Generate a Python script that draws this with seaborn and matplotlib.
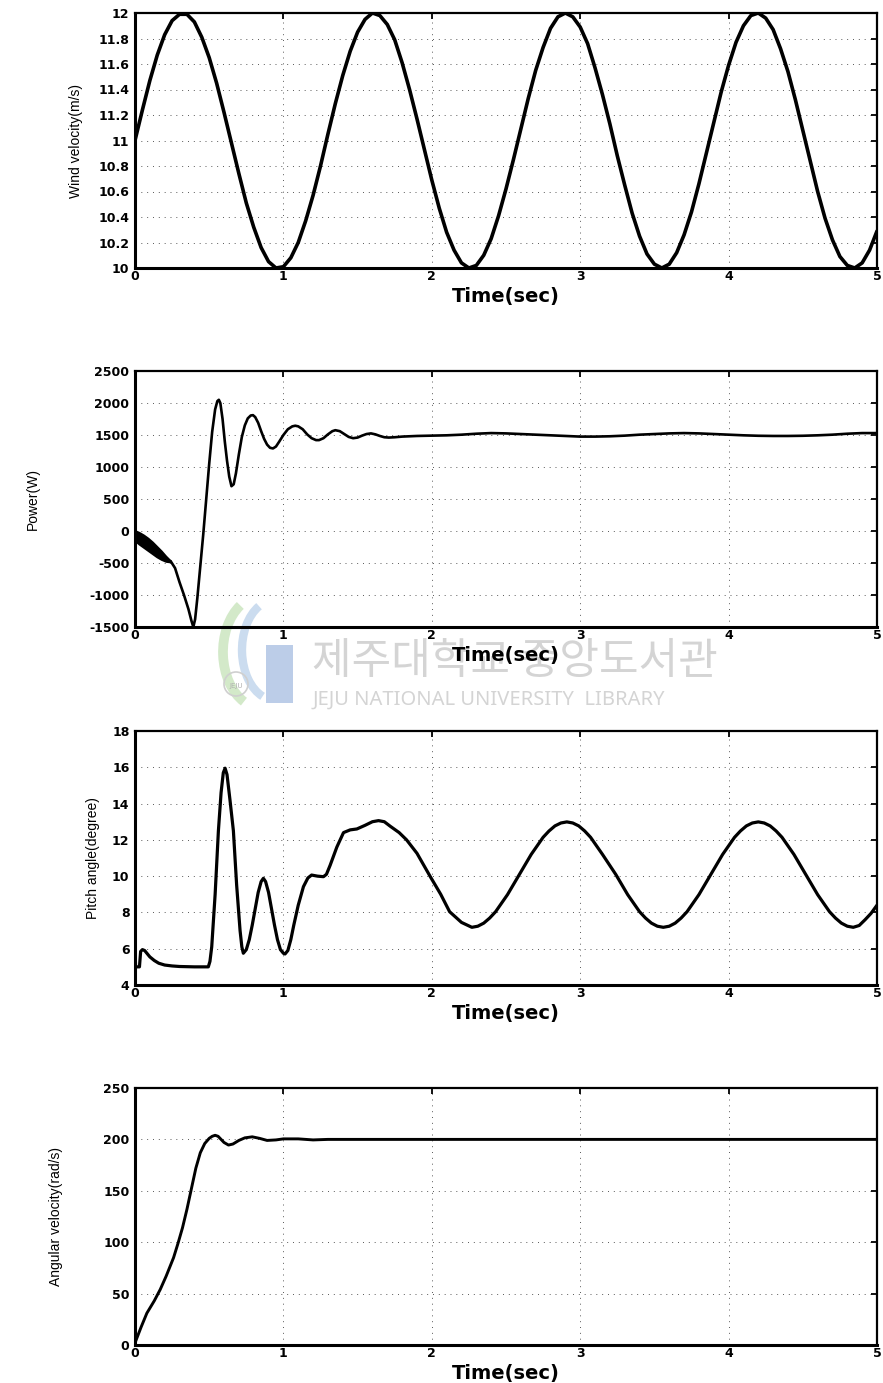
import numpy as np
import pandas as pd
import matplotlib
matplotlib.use("Agg")
import matplotlib.pyplot as plt
import seaborn as sns
from matplotlib import font_manager
from matplotlib.patches import Arc, Rectangle, Circle

# ---------------- data ----------------
wind_t = [round(0.05 * k, 2) for k in range(101)]
wind_v = [11.00, 11.24, 11.47, 11.67, 11.83, 11.94, 11.99, 11.99, 11.93, 11.81,
          11.65, 11.45, 11.22, 10.98, 10.74, 10.51, 10.32, 10.16, 10.05, 10.00,
          10.01, 10.08, 10.20, 10.37, 10.57, 10.80, 11.05, 11.29, 11.51, 11.70,
          11.85, 11.95, 12.00, 11.98, 11.91, 11.79, 11.61, 11.40, 11.17, 10.93,
          10.69, 10.47, 10.28, 10.14, 10.04, 10.00, 10.02, 10.10, 10.23, 10.41,
          10.62, 10.85, 11.09, 11.33, 11.55, 11.73, 11.88, 11.97, 12.00, 11.97,
          11.89, 11.76, 11.57, 11.36, 11.13, 10.88, 10.65, 10.43, 10.25, 10.11,
          10.03, 10.00, 10.03, 10.12, 10.26, 10.44, 10.66, 10.90, 11.14, 11.38,
          11.59, 11.77, 11.90, 11.98, 12.00, 11.96, 11.87, 11.72, 11.54, 11.32,
          11.08, 10.84, 10.60, 10.39, 10.22, 10.09, 10.02, 10.00, 10.04, 10.14,
          10.29]

power_band_t = [0.0, 0.03, 0.06, 0.09, 0.12, 0.15, 0.18, 0.21, 0.24]
power_band_hi = [0, -30, -70, -120, -180, -250, -320, -400, -470]
power_band_lo = [-150, -210, -260, -310, -360, -410, -450, -480, -490]

power_t = [0.24, 0.27, 0.30, 0.33, 0.36, 0.38, 0.393, 0.405, 0.42, 0.44, 0.46,
           0.48, 0.50, 0.52, 0.54, 0.555, 0.565, 0.575, 0.59, 0.605, 0.62, 0.635,
           0.65, 0.665, 0.68, 0.70, 0.72, 0.74, 0.76, 0.78, 0.795, 0.81, 0.83,
           0.85, 0.87, 0.89, 0.91, 0.93, 0.95, 0.97, 1.0, 1.03, 1.06, 1.08, 1.10,
           1.13, 1.16, 1.19, 1.22, 1.24, 1.27, 1.30, 1.33, 1.35, 1.38, 1.41,
           1.44, 1.47, 1.50, 1.53, 1.56, 1.59, 1.62, 1.65, 1.68, 1.71, 1.75,
           1.8, 1.9, 2.0, 2.1, 2.2, 2.3, 2.4, 2.5, 2.6, 2.7, 2.8, 2.9, 3.0,
           3.1, 3.2, 3.3, 3.4, 3.5, 3.6, 3.7, 3.8, 3.9, 4.0, 4.1, 4.2, 4.3,
           4.4, 4.5, 4.6, 4.7, 4.8, 4.9, 5.0]
power_w = [-470, -580, -800, -1000, -1220, -1400, -1500, -1380, -1050, -550, -50,
           500, 1050, 1550, 1900, 2030, 2050, 2000, 1750, 1400, 1100, 850,
           700, 730, 900, 1200, 1470, 1650, 1760, 1805, 1810, 1780, 1690,
           1560, 1440, 1350, 1300, 1290, 1320, 1390, 1500, 1590, 1635, 1645, 1635,
           1590, 1510, 1450, 1420, 1420, 1450, 1510, 1560, 1575, 1560, 1515,
           1470, 1450, 1460, 1490, 1515, 1525, 1510, 1485, 1465, 1460, 1465,
           1475, 1485, 1490, 1495, 1505, 1520, 1530, 1525, 1515, 1505, 1495, 1485, 1475,
           1475, 1480, 1490, 1505, 1515, 1525, 1530, 1525, 1515, 1505, 1495, 1488, 1485,
           1485, 1488, 1495, 1505, 1520, 1530, 1530]

pitch_t = [0.0, 0.004, 0.03, 0.038, 0.05, 0.065, 0.08, 0.10, 0.13, 0.16, 0.20,
           0.25, 0.30, 0.40, 0.494, 0.505, 0.517, 0.54, 0.562, 0.58, 0.595,
           0.607, 0.62, 0.64, 0.663, 0.685, 0.708, 0.72, 0.73, 0.75, 0.77,
           0.79, 0.81, 0.83, 0.85, 0.865, 0.88, 0.90, 0.92, 0.94, 0.96,
           0.98, 1.0, 1.011, 1.03, 1.05, 1.07, 1.10, 1.135, 1.165, 1.19, 1.23,
           1.27, 1.29, 1.315, 1.36, 1.405, 1.45, 1.495, 1.55, 1.60, 1.641, 1.68,
           1.72, 1.78, 1.83, 1.90, 1.99, 2.06, 2.12, 2.2, 2.27,
           2.31, 2.35, 2.39, 2.43, 2.51, 2.59, 2.67, 2.75, 2.79, 2.83, 2.87,
           2.91, 2.95, 2.99, 3.03, 3.07, 3.15,
           3.24, 3.32, 3.40, 3.44, 3.48, 3.52, 3.56, 3.60, 3.64, 3.68, 3.72,
           3.80, 3.88, 3.96, 4.04, 4.08, 4.12, 4.16, 4.20, 4.24, 4.28, 4.32,
           4.36, 4.44, 4.52, 4.60, 4.68, 4.72, 4.76, 4.80, 4.84, 4.88, 4.92,
           4.96, 5.0]
pitch_deg = [6.0, 5.0, 5.0, 5.85, 5.95, 5.9, 5.75, 5.55, 5.35, 5.2, 5.1,
             5.05, 5.02, 5.0, 5.0, 5.3, 6.1, 9.0, 12.5, 14.6, 15.7,
             15.95, 15.6, 14.2, 12.5, 9.5, 7.0, 6.1, 5.75, 5.95, 6.5,
             7.3, 8.2, 9.1, 9.7, 9.88, 9.7, 9.1, 8.2, 7.3, 6.5,
             5.95, 5.75, 5.71, 5.9, 6.5, 7.3, 8.4, 9.42, 9.9, 10.06, 10.0,
             9.97, 10.1, 10.6, 11.6, 12.4, 12.55, 12.6, 12.8, 13.0, 13.06, 13.0,
             12.75, 12.4, 12.0, 11.26, 9.97, 9.0, 8.04, 7.45, 7.18,
             7.24, 7.41, 7.69, 8.04, 8.98, 10.09, 11.2, 12.14, 12.49, 12.77, 12.93,
             12.99, 12.93, 12.77, 12.49, 12.14, 11.2,
             10.09, 8.98, 8.04, 7.69, 7.41, 7.24, 7.18, 7.24, 7.41, 7.69, 8.04,
             8.98, 10.09, 11.2, 12.14, 12.49, 12.77, 12.93, 12.99, 12.93, 12.77, 12.49,
             12.14, 11.2, 10.09, 8.98, 8.04, 7.69, 7.41, 7.24, 7.18, 7.28, 7.6,
             7.95, 8.4]

omega_t = [0.0, 0.04, 0.08, 0.13, 0.17, 0.21, 0.26, 0.29, 0.32, 0.35, 0.38,
           0.41, 0.44, 0.47, 0.50, 0.52, 0.54, 0.56, 0.58, 0.60, 0.63, 0.66,
           0.70, 0.74, 0.79, 0.84, 0.89, 0.95, 1.0, 1.1, 1.2, 1.3, 1.5, 2.0,
           3.0, 4.0, 5.0]
omega_v = [2, 17, 31, 43, 54, 67, 85, 99, 114, 132, 152, 172, 187, 196, 201, 203,
           204, 203, 200, 197, 194.5, 195.5, 199, 201.5, 202.5, 201, 199, 199.5,
           200.5, 200.5, 199.5, 200, 200, 200, 200, 200, 200]

x_ticks = [0, 1, 2, 3, 4, 5]
wind_ticks = [10, 10.2, 10.4, 10.6, 10.8, 11, 11.2, 11.4, 11.6, 11.8, 12]
wind_tick_labels = ["10", "10.2", "10.4", "10.6", "10.8", "11", "11.2", "11.4", "11.6", "11.8", "12"]
power_ticks = [-1500, -1000, -500, 0, 500, 1000, 1500, 2000, 2500]
pitch_ticks = [4, 6, 8, 10, 12, 14, 16, 18]
omega_ticks = [0, 50, 100, 150, 200, 250]

xlabel_text = "Time(sec)"
ylabels = ["Wind velocity(m/s)", "Power(W)", "Pitch angle(degree)", "Angular velocity(rad/s)"]
wm_korean = "제주대학교 중앙도서관"
wm_english = "JEJU NATIONAL UNIVERSITY  LIBRARY"

# ---------------- style ----------------
sns.set_theme(style="white")
plt.rcParams['font.family'] = ['DejaVu Sans']
plt.rcParams['text.color'] = 'black'
plt.rcParams['axes.labelcolor'] = 'black'
plt.rcParams['xtick.color'] = 'black'
plt.rcParams['ytick.color'] = 'black'
avail = {f.name for f in font_manager.fontManager.ttflist}
narrow = 'Liberation Sans Narrow' if 'Liberation Sans Narrow' in avail else None

W, H = 883, 1383
fig = plt.figure(figsize=(W / 100, H / 100), dpi=100)
fig.patch.set_facecolor('white')

# watermark layer (behind everything)
wm = fig.add_axes([0, 0, 1, 1], zorder=-1)
wm.set_xlim(0, W)
wm.set_ylim(H, 0)
wm.axis('off')
wm.add_patch(Arc((262, 652), 78, 112, theta1=110, theta2=245, lw=7, color='#d3e9c9'))
wm.add_patch(Arc((275, 650), 66, 100, theta1=105, theta2=250, lw=6, color='#cbdcef'))
wm.add_patch(Rectangle((266, 645), 27, 58, color='#bccde8', lw=0))
wm.add_patch(Circle((236, 684), 12, fill=False, ec='#cfcfcf', lw=1.2))
wm.text(236, 686, "JEJU", fontsize=5, color='#b0b0b0', ha='center', va='center')
wm.text(312, 662, wm_korean, fontsize=31, color='#d4d4d4',
        family=['Noto Sans CJK KR', 'DejaVu Sans'], ha='left', va='center')
wm.text(313, 700, wm_english, fontsize=14.5, color='#d4d4d4',
        family=['Noto Sans', 'DejaVu Sans'], ha='left', va='center')

# axes positions in pixels (top, bottom)
panels = [(13, 268), (371, 627), (731, 985), (1088, 1345)]
left_px, right_px = 135, 877
label_x = [-0.070, -0.128, -0.047, -0.097]

axes = []
for (top, bot) in panels:
    ax = fig.add_axes([left_px / W, 1 - bot / H, (right_px - left_px) / W, (bot - top) / H])
    ax.set_facecolor('none')
    axes.append(ax)

series = [
    (wind_t, wind_v, (10, 12), wind_ticks, wind_tick_labels, 2.6),
    (power_t, power_w, (-1500, 2500), power_ticks, [str(v) for v in power_ticks], 1.9),
    (pitch_t, pitch_deg, (4, 18), pitch_ticks, [str(v) for v in pitch_ticks], 2.3),
    (omega_t, omega_v, (0, 250), omega_ticks, [str(v) for v in omega_ticks], 2.1),
]

if narrow:
    ylab_kw = dict(fontsize=12, family=[narrow, 'DejaVu Sans'])
else:
    ylab_kw = dict(fontsize=10, family=['Liberation Sans', 'DejaVu Sans'])

for i, (ax, (t, v, ylim, yt, ytl, lw)) in enumerate(zip(axes, series)):
    df = pd.DataFrame({"t": t, "v": v})
    if i == 1:
        ax.fill_between(power_band_t, power_band_lo, power_band_hi, color='black', lw=0)
        sns.lineplot(x=power_band_t, y=power_band_hi, ax=ax, color='black', lw=1.5,
                     estimator=None, sort=False)
        sns.lineplot(x=power_band_t, y=power_band_lo, ax=ax, color='black', lw=1.5,
                     estimator=None, sort=False)
    sns.lineplot(data=df, x="t", y="v", ax=ax, color='black', lw=lw,
                 estimator=None, sort=False)
    ax.set_xlim(0, 5)
    ax.set_ylim(*ylim)
    ax.set_xticks(x_ticks)
    ax.set_xticklabels([str(x) for x in x_ticks], fontsize=9, fontweight='bold')
    ax.set_yticks(yt)
    ax.set_yticklabels(ytl, fontsize=9, fontweight='bold')
    ax.tick_params(axis='both', which='both', direction='in', length=4, width=1.3,
                   top=True, right=True, colors='black')
    ax.tick_params(axis='x', pad=1.5)
    ax.tick_params(axis='y', pad=4)
    ax.grid(True, linestyle=(0, (1, 5)), color='0.35', linewidth=0.7)
    for s in ax.spines.values():
        s.set_visible(True)
        s.set_color('black')
        s.set_linewidth(1.6)
    ax.spines['left'].set_linewidth(2.2)
    ax.spines['bottom'].set_linewidth(2.2)
    ax.set_xlabel(xlabel_text, fontsize=14, fontweight='heavy', labelpad=3, color='black')
    ax.set_ylabel(ylabels[i], color='black', **ylab_kw)
    ax.yaxis.set_label_coords(label_x[i], 0.5)

fig.savefig("out.png", dpi=100, facecolor='white')
